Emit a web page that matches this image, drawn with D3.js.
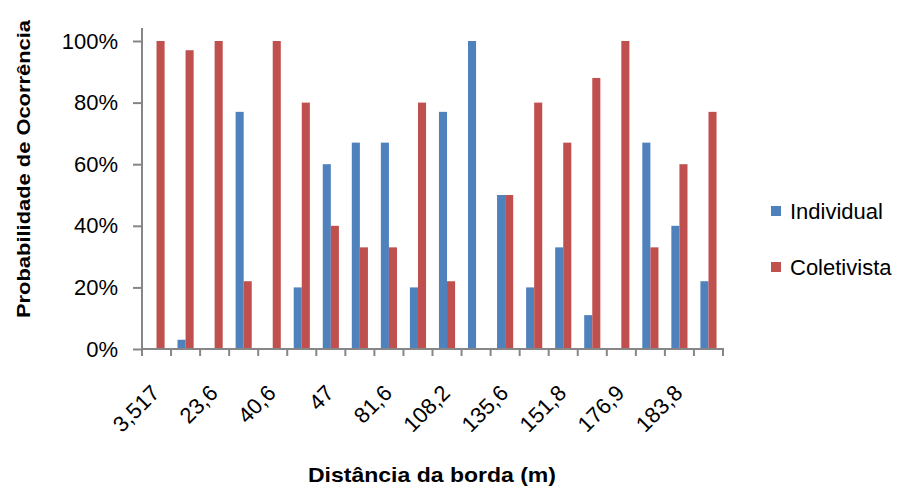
<!DOCTYPE html>
<html><head><meta charset="utf-8">
<script src="https://cdn.jsdelivr.net/npm/d3@7"></script>
<style>
html,body{margin:0;padding:0;background:#fff;}
svg{display:block;font-family:"Liberation Sans",Arial,sans-serif;}
</style></head>
<body><svg id="c" width="904" height="493"></svg>
<script>
const categories = ["3,517","c2","23,6","c4","40,6","c6","47","c8","81,6","c10","108,2","c12","135,6","c14","151,8","c16","176,9","c18","183,8","c20"];
const shownLabels = ["3,517","23,6","40,6","47","81,6","108,2","135,6","151,8","176,9","183,8"];
const individual = [0, 3, 0, 77, 0, 20, 60, 67, 67, 20, 77, 100, 50, 20, 33, 11, 0, 67, 40, 22];
const coletivista = [100, 97, 100, 22, 100, 80, 40, 33, 33, 80, 22, 0, 50, 80, 67, 88, 100, 33, 60, 77];
const seriesNames = ["Individual", "Coletivista"];
const colors = ["#4F81BD", "#C0504D"];
const yTicks = [0, 20, 40, 60, 80, 100];

const svg = d3.select("#c");
const mLeft = 142, mRight = 723, mTop = 41, mBottom = 349;
const axisColor = "#868686";

const x = d3.scaleBand().domain(categories).range([mLeft, mRight]).paddingInner(0).paddingOuter(0);
const x1 = d3.scaleBand().domain(seriesNames).range([0, x.bandwidth()]).paddingInner(0).paddingOuter(0.8);
const y = d3.scaleLinear().domain([0, 100]).range([mBottom, mTop]);

const data = categories.map((c, i) => ({cat: c, vals: [individual[i], coletivista[i]]}));

const g = svg.append("g");
g.selectAll("g.cat").data(data).join("g").attr("class","cat")
  .attr("transform", d => `translate(${x(d.cat)},0)`)
  .selectAll("rect").data(d => d.vals.map((v, k) => ({v, k})))
  .join("rect")
  .attr("x", d => x1(seriesNames[d.k]))
  .attr("width", x1.bandwidth())
  .attr("y", d => y(d.v))
  .attr("height", d => mBottom - y(d.v))
  .attr("fill", d => colors[d.k]);

// Y axis
const yAxis = d3.axisLeft(y).tickValues(yTicks).tickFormat(d => d + "%").tickSize(9).tickPadding(15);
const ya = svg.append("g").attr("transform", `translate(${mLeft},0)`).call(yAxis);
ya.select(".domain").remove();
ya.append("line").attr("x1",0).attr("x2",0).attr("y1",28).attr("y2",mBottom).attr("stroke",axisColor).attr("stroke-width",2);
ya.selectAll(".tick line").attr("stroke", axisColor).attr("stroke-width",2);
ya.selectAll(".tick text").attr("fill","#000").attr("font-size","22px").style("font-family","Liberation Sans, Arial, sans-serif");

// X axis
const xa = svg.append("g").attr("transform", `translate(0,${mBottom})`);
xa.append("line").attr("x1", mLeft).attr("x2", mRight+1).attr("y1",0).attr("y2",0).attr("stroke",axisColor).attr("stroke-width",2);
const bounds = categories.map(c => x(c)).concat([mRight]);
xa.selectAll("line.t").data(bounds).join("line").attr("class","t")
  .attr("x1", d => d).attr("x2", d => d).attr("y1", 0).attr("y2", 7)
  .attr("stroke", axisColor).attr("stroke-width", 2);
xa.selectAll("text.lab").data(shownLabels).join("text").attr("class","lab")
  .attr("transform", (d, i) => `translate(${x(categories[i*2]) + x.bandwidth()/2 - 1},${40}) rotate(-45)`)
  .attr("text-anchor","end").attr("dy","0.35em")
  .attr("font-size","22px").attr("fill","#000")
  .text(d => d);

// Axis titles
svg.append("text").attr("transform", "translate(30,169) rotate(-90)")
  .attr("text-anchor","middle").attr("font-weight","bold").attr("font-size","19px")
  .attr("textLength", 298).attr("lengthAdjust","spacingAndGlyphs")
  .text("Probabilidade de Ocorrência");
svg.append("text").attr("x", 432).attr("y", 482)
  .attr("text-anchor","middle").attr("font-weight","bold").attr("font-size","21px")
  .attr("textLength", 248).attr("lengthAdjust","spacingAndGlyphs")
  .text("Distância da borda (m)");

// Legend
const lg = svg.append("g").attr("transform","translate(771,0)");
const ly = [211, 267];
seriesNames.forEach((s, i) => {
  lg.append("rect").attr("x",0).attr("y", ly[i]-5).attr("width",10).attr("height",10).attr("fill", colors[i]);
  lg.append("text").attr("x",19).attr("y", ly[i]).attr("dy","0.35em").attr("font-size","22px").attr("fill","#000").text(s);
});
</script></body></html>
